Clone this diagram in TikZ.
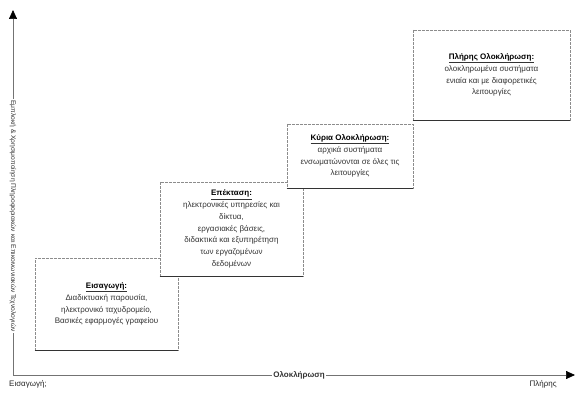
\documentclass[tikz,border=0pt]{standalone}
\usepackage{fontspec}
\setmainfont{Liberation Sans}
\usetikzlibrary{arrows.meta}
\begin{document}
\begin{tikzpicture}[x=1pt,y=-1pt,
  stagebox/.style={draw=black!45, line width=0.6pt, dash pattern=on 3pt off 1pt, fill=white,
    align=center, inner sep=2pt, font=\fontsize{8}{11.8}\selectfont, text=black!80},
  shadowline/.style={draw=black!80, line width=1.4pt},
  axisline/.style={draw=black!55, line width=0.7pt},
  axistip/.style={-{Triangle[length=9pt,width=8pt,color=black,fill=black]}},
  axislabel/.style={font=\fontsize{6.7}{8}\selectfont, text=black!80, fill=white, inner sep=1pt},
  endlabel/.style={font=\fontsize{8}{9}\selectfont, text=black!85, inner sep=1pt}]
\useasboundingbox (0,0) rectangle (576,393);
% axes
\coordinate (origin) at (13,375);
\coordinate (ytop) at (13,10);
\coordinate (xend) at (575,375);
\draw[axisline,axistip] (origin) -- (ytop);
\draw[axisline,axistip] (origin) -- (xend);
\node[axislabel, rotate=-90] (ylab) at (13,216) {Εμπλοκή \& Χρησιμοποίηση Πληροφοριακών και Επικοινωνιακών Τεχνολογιών};
\node[axislabel, font=\bfseries\fontsize{8}{9}\selectfont] (xlab) at (299,375) {Ολοκλήρωση};
\node[endlabel, anchor=west] (xstart) at (8,384) {Εισαγωγή;};
\node[endlabel, anchor=east] (xfin) at (558,384) {Πλήρης};
% stages
\node[stagebox, minimum width=143pt, minimum height=92pt] (s1) at (106.5,304) {%
  \underline{\textbf{\color{black}Εισαγωγή:}}\\
  Διαδικτυακή παρουσία,\\
  ηλεκτρονικό ταχυδρομείο,\\
  Βασικές εφαρμογές γραφείου};
\draw[shadowline] (s1.south west) -- (s1.south east);
\node[stagebox, minimum width=143pt, minimum height=94pt] (s2) at (231.5,229) {%
  \underline{\textbf{\color{black}Επέκταση:}}\\
  ηλεκτρονικές υπηρεσίες και\\
  δίκτυα,\\
  εργασιακές βάσεις,\\
  διδακτικά και εξυπηρέτηση\\
  των εργαζομένων\\
  δεδομένων};
\draw[shadowline] (s2.south west) -- (s2.south east);
\node[stagebox, minimum width=126pt, minimum height=64pt] (s3) at (350,156) {%
  \underline{\textbf{\color{black}Κύρια Ολοκλήρωση:}}\\
  αρχικά συστήματα\\
  ενσωματώνονται σε όλες τις\\
  λειτουργίες};
\draw[shadowline] (s3.south west) -- (s3.south east);
\node[stagebox, minimum width=157pt, minimum height=90pt] (s4) at (491.5,75) {%
  \underline{\textbf{\color{black}Πλήρης Ολοκλήρωση:}}\\
  ολοκληρωμένα συστήματα\\
  ενιαία και με διαφορετικές\\
  λειτουργίες};
\draw[shadowline] (s4.south west) -- (s4.south east);
\end{tikzpicture}
\end{document}
